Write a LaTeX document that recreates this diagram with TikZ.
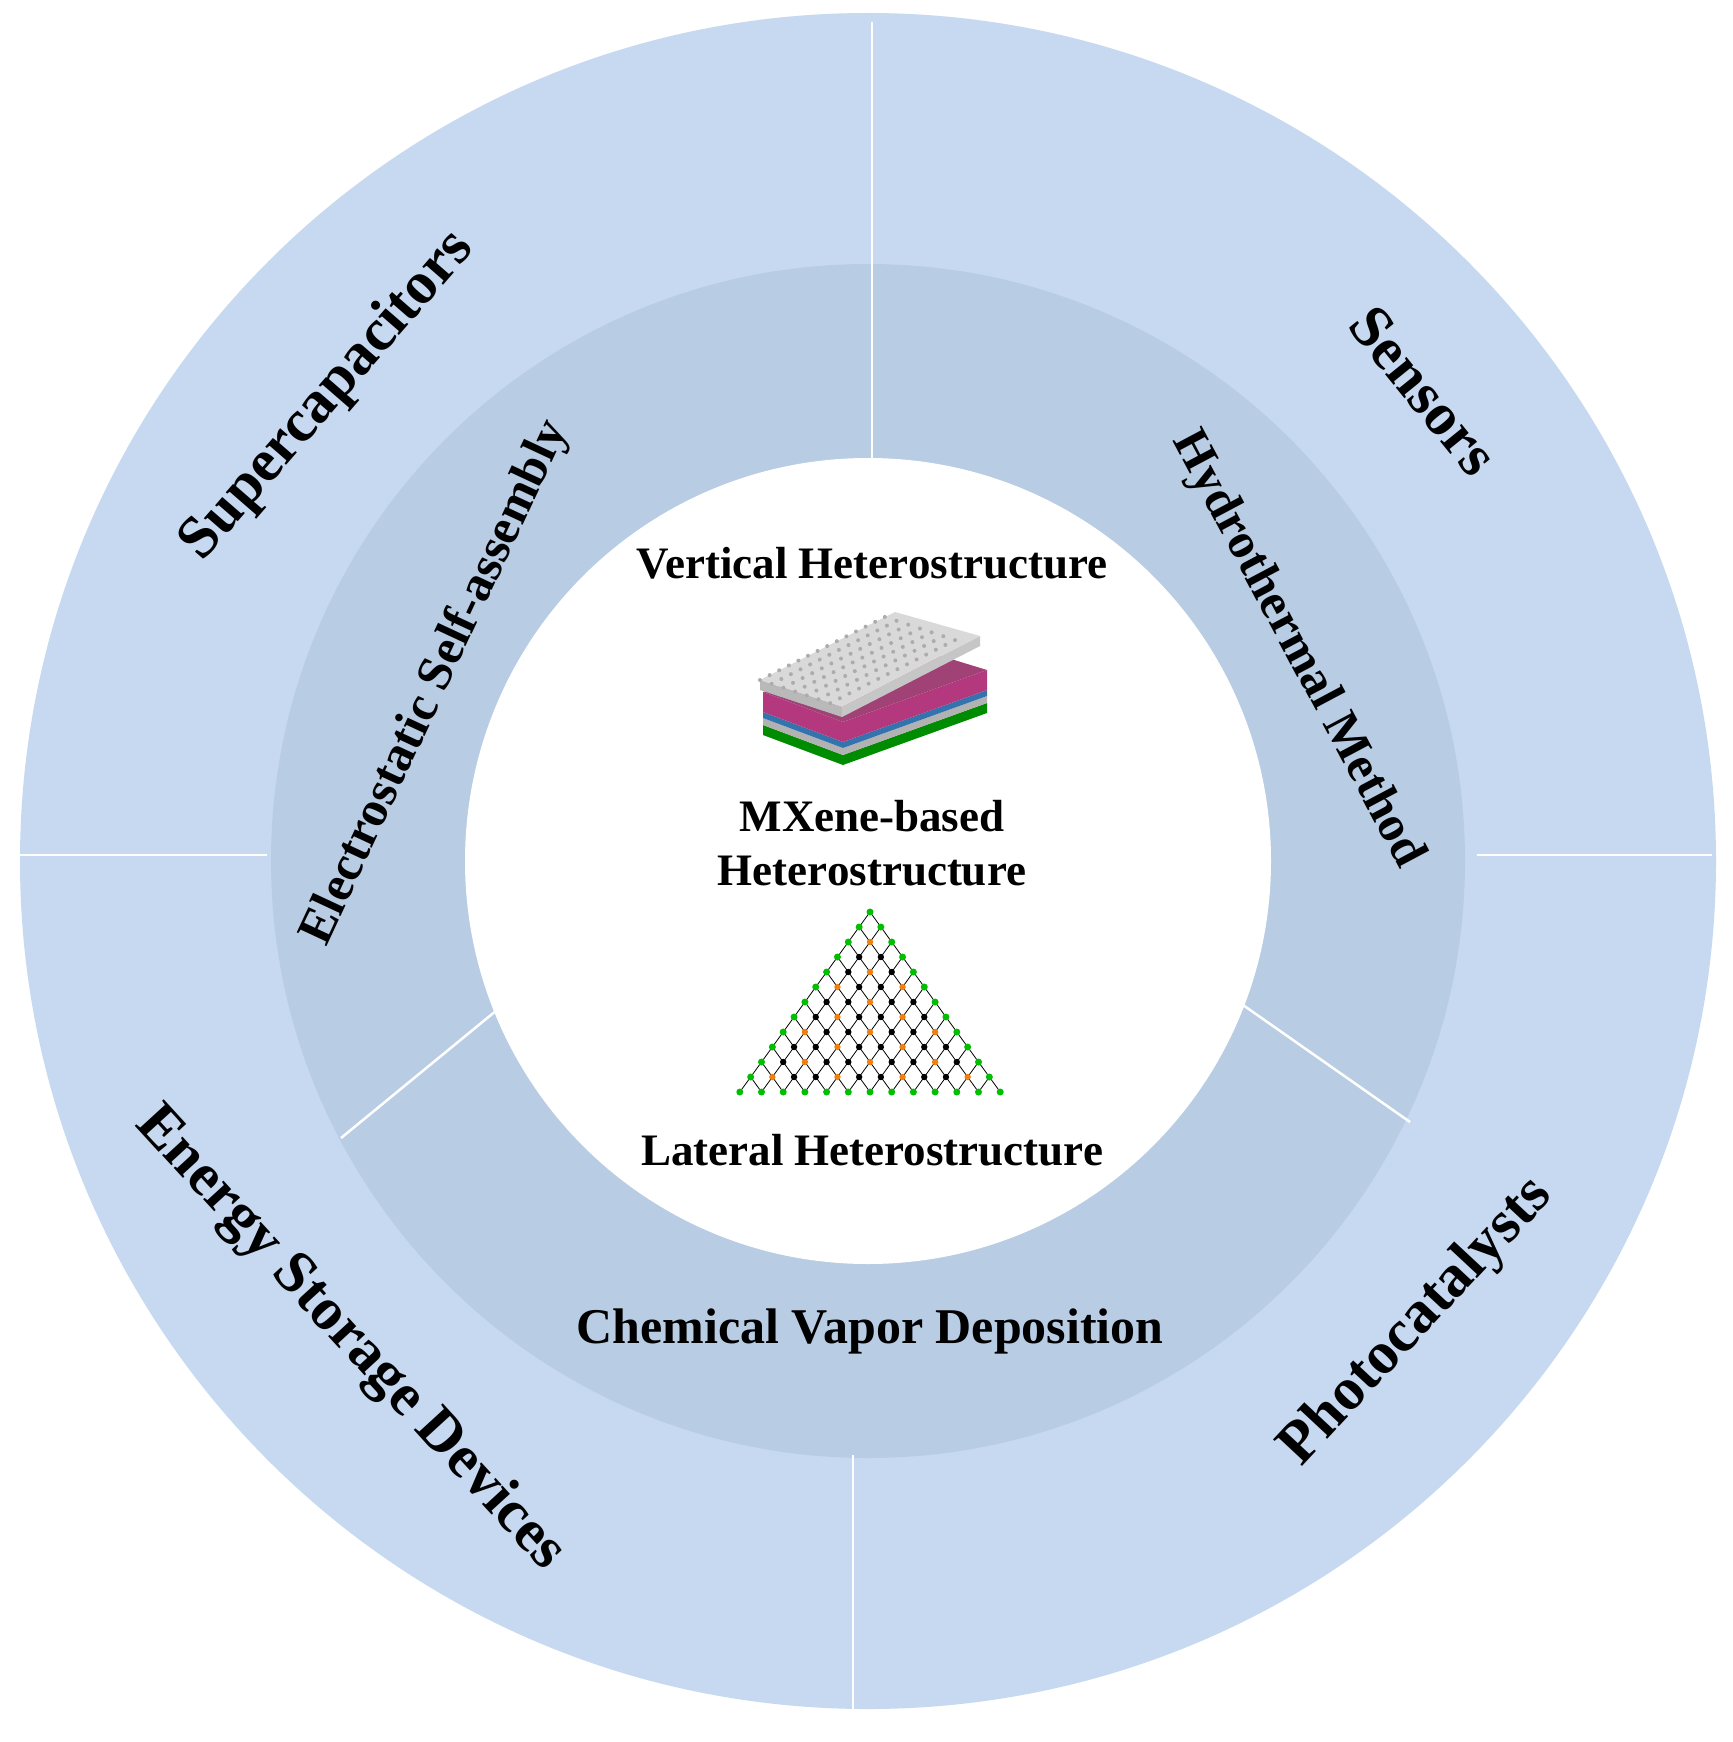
\documentclass[tikz,border=0pt]{standalone}
\usepackage{fontspec}
\setmainfont{Liberation Serif}
\begin{document}
\begin{tikzpicture}[x=1pt,y=-1pt,
  outer/.style={font=\bfseries\fontsize{60}{60}\selectfont},
  mid/.style={font=\bfseries\fontsize{50}{50}\selectfont},
  inner/.style={font=\bfseries\fontsize{45}{54}\selectfont,align=center},
  sep/.style={white,line width=2.5pt}]
\useasboundingbox (0,0) rectangle (1732,1742);
\fill[white] (0,0) rectangle (1732,1742);
\coordinate (c) at (868,861);
\fill[fill={rgb,255:red,198;green,217;blue,240}] (c) circle[radius=848];
\fill[fill={rgb,255:red,184;green,204;blue,228}] (c) circle[radius=597];
\fill[white] (c) circle[radius=403];
% separators
\coordinate (t1) at (872,22); \coordinate (t2) at (872,458);
\coordinate (l1) at (14,855); \coordinate (l2) at (267,855);
\coordinate (r1) at (1477,855); \coordinate (r2) at (1712,855);
\coordinate (b1) at (853,1455); \coordinate (b2) at (853,1716);
\coordinate (d1) at (497,1010); \coordinate (d2) at (341,1138);
\coordinate (e1) at (1243,1005); \coordinate (e2) at (1410,1122);
\draw[sep] (t1)--(t2); \draw[sep] (l1)--(l2); \draw[sep] (r1)--(r2);
\draw[sep] (b1)--(b2); \draw[sep] (d1)--(d2); \draw[sep] (e1)--(e2);
% outer labels
\node[outer,rotate=49] (sup) at (328,396) {Supercapacitors};
\node[outer,rotate=-51] (sen) at (1424,391) {Sensors};
\node[outer,rotate=47] (pho) at (1417,1322) {Photocatalysts};
\node[outer,rotate=-47.5] (ene) at (350,1339) {Energy Storage Devices};
% middle labels
\node[mid,rotate=65] (ele) at (436,683) {Electrostatic Self-assembly};
\node[mid,rotate=-62] (hyd) at (1297,650) {Hydrothermal Method};
\node[mid] (cvd) at (870,1331) {Chemical Vapor Deposition};
% inner labels
\node[inner] (ver) at (872,563) {Vertical Heterostructure};
\node[inner] (mxe) at (872,843) {MXene-based\\Heterostructure};
\node[inner] (lat) at (872,1150) {Lateral Heterostructure};
% stack
\begin{scope}
\fill[green!55!black] (763,725)--(843,755)--(987,703)--(987,713)--(843,765)--(763,735)--cycle;
\fill[gray!60] (763,718)--(843,748)--(987,696)--(987,703)--(843,755)--(763,725)--cycle;
\fill[cyan!60!blue!80!black] (763,712)--(843,742)--(987,690)--(987,696)--(843,748)--(763,718)--cycle;
\fill[magenta!70!black] (763,692)--(843,722)--(987,670)--(987,690)--(843,742)--(763,712)--cycle;
\fill[magenta!60!black] (763,692)--(843,722)--(987,670)--(905,645)--cycle;
\fill[gray!55] (760,680)--(842,707)--(842,717)--(760,690)--cycle;
\fill[gray!45] (842,707)--(980,636)--(980,646)--(842,717)--cycle;
\fill[gray!30] (760,680)--(895,612)--(980,636)--(842,707)--cycle;
\foreach \i in {0,...,13}{\foreach \j in {0,...,6}{
  \fill[gray!65] ({760+\i*9.6+\j*11.7},{680-\i*4.85+\j*3.85}) circle[radius=2];}}
\end{scope}
% lateral triangle
\begin{scope}
\foreach \i in {0,...,12}{
  \foreach \j in {0,...,\i}{
    \pgfmathsetmacro{\px}{870+(\j-\i/2)*21.7}
    \pgfmathsetmacro{\py}{912+\i*15}
    \ifnum\i<12
      \draw[black,line width=0.8pt] (\px,\py)--({\px-10.85},{\py+15});
      \draw[black,line width=0.8pt] (\px,\py)--({\px+10.85},{\py+15});
    \fi
  }}
\foreach \i in {0,...,12}{
  \foreach \j in {0,...,\i}{
    \pgfmathsetmacro{\px}{870+(\j-\i/2)*21.7}
    \pgfmathsetmacro{\py}{912+\i*15}
    \pgfmathtruncatemacro{\edge}{(\j==0)||(\j==\i)||(\i==12)}
    \pgfmathtruncatemacro{\m}{mod(\i+\j,3)}
    \ifnum\edge=1
      \fill[green!75!black] (\px,\py) circle[radius=3.5];
    \else\ifnum\m=0
      \fill[orange!80!brown] (\px,\py) circle[radius=3.2];
    \else
      \fill[black] (\px,\py) circle[radius=3.2];
    \fi\fi
  }}
\end{scope}
\end{tikzpicture}
\end{document}
